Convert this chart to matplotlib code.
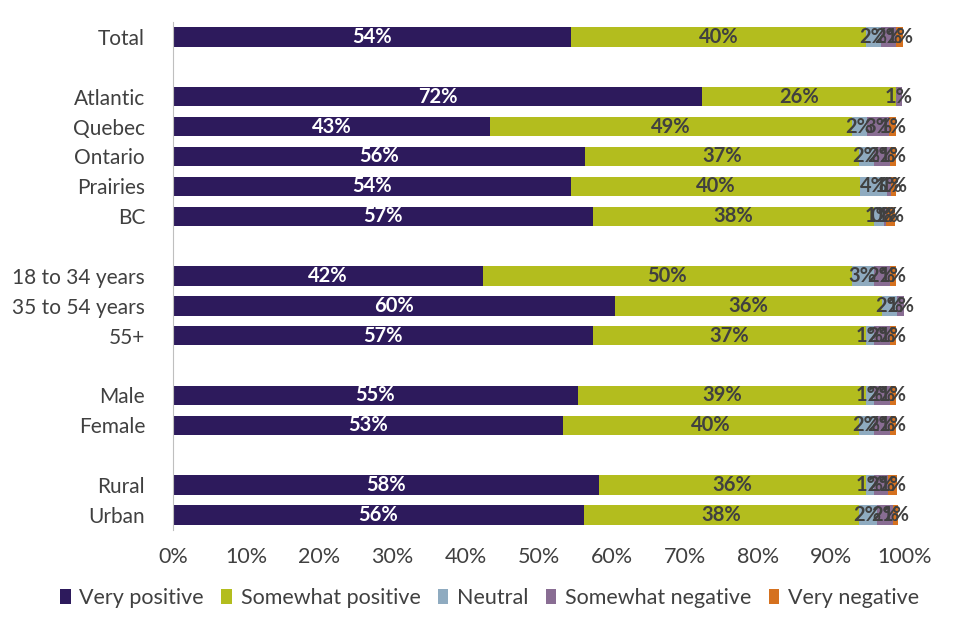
import matplotlib.pyplot as plt
import numpy as np

plt.rcParams['font.family'] = ['Lato', 'DejaVu Sans']

# Categories top to bottom, '' marks a spacer row
categories = ['Total', '', 'Atlantic', 'Quebec', 'Ontario', 'Prairies', 'BC', '',
              '18 to 34 years', '35 to 54 years', '55+', '',
              'Male', 'Female', '', 'Rural', 'Urban']

very_positive     = [54.4, 0, 72.4, 43.4, 56.4, 54.4, 57.4, 0, 42.4, 60.4, 57.4, 0, 55.4, 53.4, 0, 58.3, 56.2]
somewhat_positive = [40.4, 0, 26.4, 49.4, 37.4, 39.6, 38.4, 0, 50.4, 36.5, 37.4, 0, 39.4, 40.4, 0, 36.4, 37.6]
neutral           = [2.0, 0, 0, 2.1, 2.0, 3.6, 1.4, 0, 3.0, 2.1, 1.0, 0, 1.0, 2.0, 0, 1.1, 2.4]
somewhat_negative = [2.0, 0, 0.9, 3.0, 2.2, 0.6, 0.3, 0, 2.2, 0.9, 2.2, 0, 2.2, 2.2, 0, 2.0, 2.3]
very_negative     = [1.0, 0, 0, 1.0, 0.9, 0.6, 1.2, 0, 0.9, 0, 0.9, 0, 0.9, 0.9, 0, 1.2, 0.6]

series_names = ['Very positive', 'Somewhat positive', 'Neutral',
                'Somewhat negative', 'Very negative']
series = [very_positive, somewhat_positive, neutral, somewhat_negative, very_negative]
colors = ['#2d1a5c', '#b3bd1e', '#8fabc0', '#896d93', '#d5711f']
label_colors = ['white', '#404040', '#404040', '#404040', '#404040']

fig = plt.figure(figsize=(9.6, 6.4), dpi=100)
ax = fig.add_axes([0.180, 0.172, 0.762, 0.7936])

y = np.arange(len(categories))
left = np.zeros(len(categories))
for name, vals, col, lcol in zip(series_names, series, colors, label_colors):
    vals = np.array(vals, dtype=float)
    ax.barh(y, vals, left=left, height=0.65, color=col, label=name)
    for yi, (l, v) in enumerate(zip(left, vals)):
        if v == 0:
            continue
        ax.text(l + v / 2, yi, '%d%%' % round(v), ha='center', va='center',
                color=lcol, fontsize=14.5, fontweight='bold')
    left += vals

ax.set_ylim(len(categories) - 0.5, -0.5)
ax.set_xlim(0, 100)
ax.set_yticks([i for i, c in enumerate(categories) if c])
ax.set_yticklabels([c for c in categories if c], fontsize=15, color='#404040')
ax.set_xticks(np.arange(0, 101, 10))
ax.set_xticklabels(['%d%%' % t for t in range(0, 101, 10)], fontsize=15.5, color='#404040')
ax.tick_params(axis='y', length=0, pad=20)
ax.tick_params(axis='x', length=0, pad=12)
for s in ['top', 'right', 'bottom']:
    ax.spines[s].set_visible(False)
ax.spines['left'].set_color('#bfbfbf')

fig.legend(loc='lower center', bbox_to_anchor=(0.51, 0.02), ncol=5, frameon=False,
           fontsize=15.5, handlelength=0.5, handleheight=0.7, handletextpad=0.4,
           columnspacing=0.8, labelcolor='#404040')

fig.savefig('out.png', dpi=100)
